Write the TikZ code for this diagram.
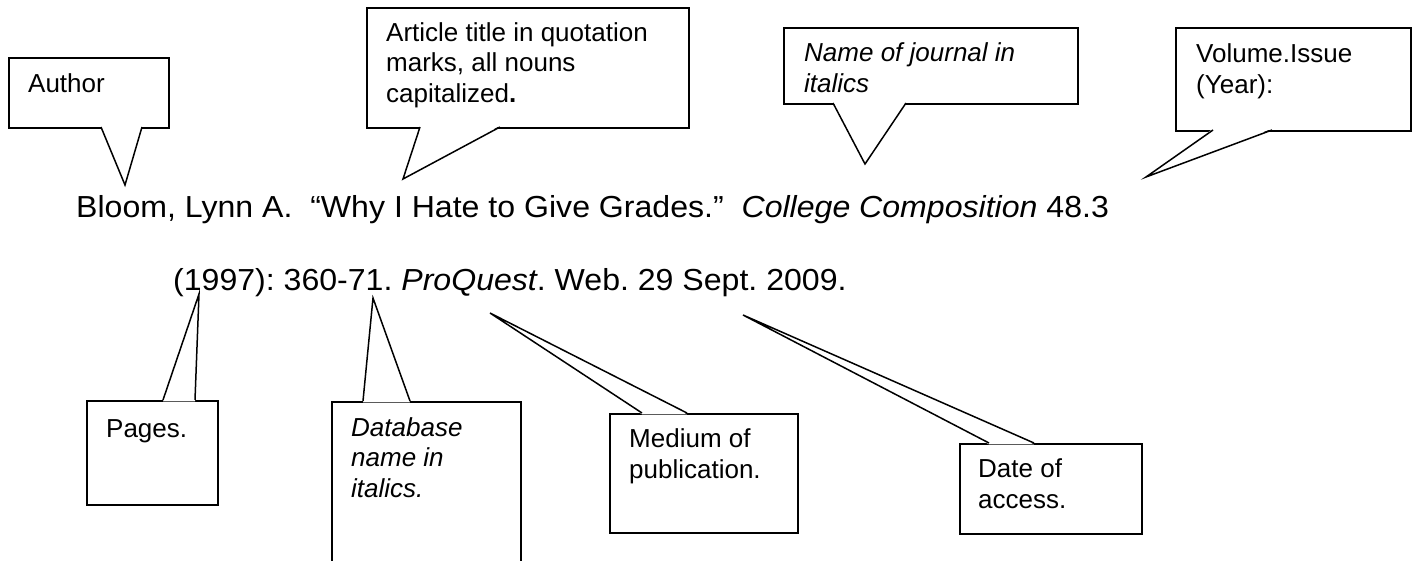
\documentclass[tikz,border=0pt]{standalone}
\usepackage{fontspec}
\setmainfont{Liberation Sans}
\newfontfamily\citefont{Liberation Sans}[FakeStretch=1.055]
\tikzset{
  cbox/.style={draw=black, line width=1.8pt, fill=white, inner sep=0pt, anchor=north west},
  ctext/.style={font=\frenchspacing\fontsize{26}{30.3}\selectfont, anchor=base west, inner sep=0pt, align=left},
  mtext/.style={font=\citefont\frenchspacing\fontsize{30.4}{36}\selectfont, anchor=base west, inner sep=0pt},
  tail/.style={draw=black, line width=1.5pt, line join=miter},
}
\begin{document}
\begin{tikzpicture}[x=1pt,y=-1pt]
\useasboundingbox (0,0) rectangle (1417,560);
\clip (0,0) rectangle (1417,560);
\fill[white] (0,0) rectangle (1417,560);

% ---- citation text ----
\node[mtext] (line1) at (76,217) {Bloom, Lynn A.\ \ “Why I Hate to Give Grades.”\ \ \textit{College Composition} 48.3};
\node[mtext] (line2) at (173,290) {(1997): 360-71. \textit{ProQuest}. Web. 29 Sept. 2009.};

% ---- top callouts ----
\node[cbox, minimum width=160pt, minimum height=70pt] (author) at (8,57) {};
\node[cbox, minimum width=322pt, minimum height=120pt] (article) at (366,7) {};
\node[cbox, minimum width=294pt, minimum height=76pt] (journal) at (783,27) {};
\node[cbox, minimum width=235pt, minimum height=103pt] (volume) at (1175,27) {};

% ---- bottom callouts ----
\node[cbox, minimum width=131pt, minimum height=104pt] (pages) at (86,400) {};
\node[cbox, minimum width=189pt, minimum height=175pt] (database) at (331,401) {};
\node[cbox, minimum width=188pt, minimum height=119pt] (medium) at (609,413) {};
\node[cbox, minimum width=182pt, minimum height=90pt] (date) at (959,443) {};

% ---- tail coordinates ----
\coordinate (authorA) at (101,127);   \coordinate (authorTip) at (125,185);   \coordinate (authorB) at (142,127);
\coordinate (articleA) at (420,127);  \coordinate (articleTip) at (403,179);  \coordinate (articleB) at (500,127);
\coordinate (journalA) at (833,103);  \coordinate (journalTip) at (865,164);  \coordinate (journalB) at (906,103);
\coordinate (volumeA) at (1213,130);  \coordinate (volumeTip) at (1146,177);  \coordinate (volumeB) at (1272,130);
\coordinate (pagesA) at (163,400);    \coordinate (pagesTip) at (199,294);    \coordinate (pagesB) at (195,400);
\coordinate (databaseA) at (363,401); \coordinate (databaseTip) at (373,298); \coordinate (databaseB) at (410,401);
\coordinate (mediumA) at (642,413);   \coordinate (mediumTip) at (490,313);   \coordinate (mediumB) at (687,413);
\coordinate (dateA) at (989,443);     \coordinate (dateTip) at (743,315);     \coordinate (dateB) at (1034,443);

% tails pointing down (box above)
\foreach \c in {author,article,journal,volume}{
  \fill[white] ([yshift=1.3pt]\c A) -- (\c Tip) -- ([yshift=1.3pt]\c B) -- cycle;
  \draw[tail] (\c A) -- (\c Tip) -- (\c B);
}
% tails pointing up (box below)
\foreach \c in {pages,database,medium,date}{
  \fill[white] ([yshift=-1.3pt]\c A) -- (\c Tip) -- ([yshift=-1.3pt]\c B) -- cycle;
  \draw[tail] (\c A) -- (\c Tip) -- (\c B);
}

% ---- callout texts (anchor = baseline of last line) ----
\node[ctext] (authorT) at (28,92) {Author};
\node[ctext] (articleT) at (386,102) {Article title in quotation\\marks, all nouns\\capitalized\textbf{.}};
\node[ctext] (journalT) at (804,92) {\textit{Name of journal in}\\\textit{italics}};
\node[ctext] (volumeT) at (1196,93) {Volume.Issue\\(Year):};
\node[ctext] (pagesT) at (106,437) {Pages.};
\node[ctext] (databaseT) at (351,497) {\textit{Database}\\\textit{name in}\\\textit{italics.}};
\node[ctext] (mediumT) at (629,478) {Medium of\\publication.};
\node[ctext] (dateT) at (978,508) {Date of\\access.};
\end{tikzpicture}
\end{document}
